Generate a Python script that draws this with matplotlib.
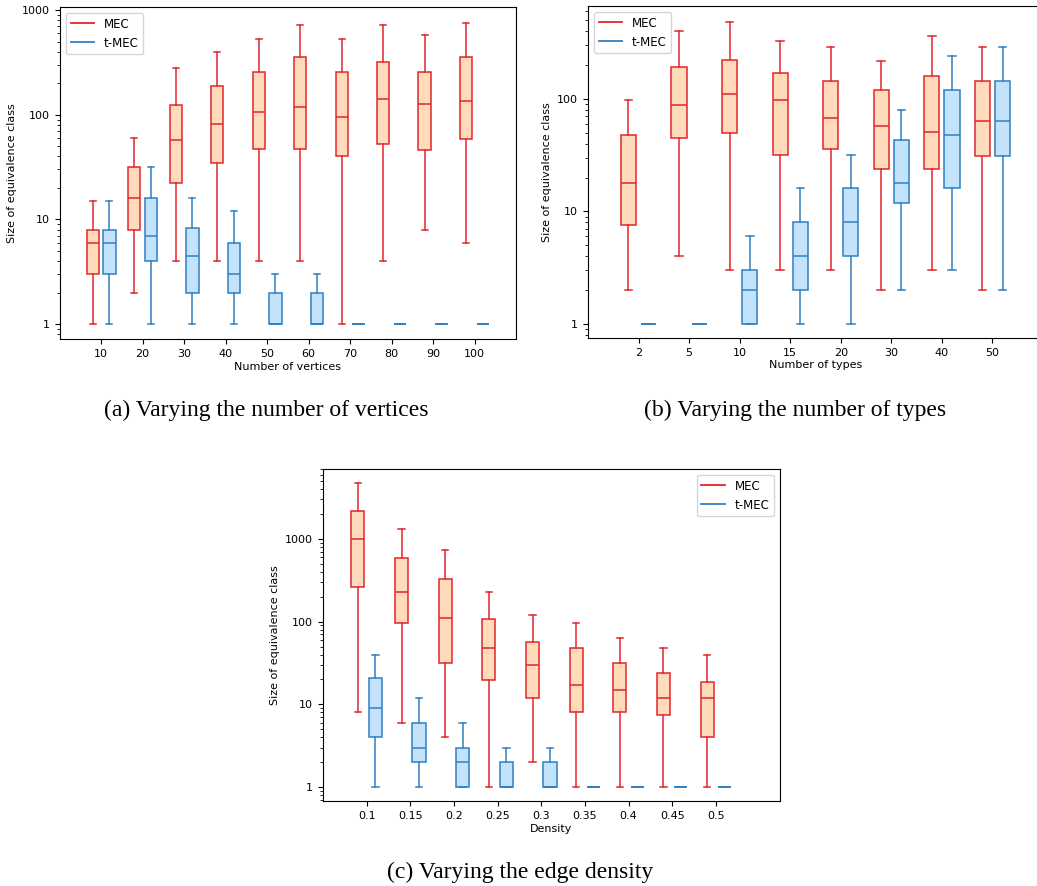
import matplotlib
matplotlib.use('Agg')
import matplotlib.pyplot as plt
from matplotlib.lines import Line2D
from matplotlib.ticker import FuncFormatter, NullFormatter, LogLocator

# ---- (a) number of vertices ----
vert_labels = ['10', '20', '30', '40', '50', '60', '70', '80', '90', '100']
# columns: whislo, q1, med, q3, whishi
vert_mec = [
    [1, 3, 6, 8, 15],
    [2, 8, 16, 32, 60],
    [4, 22.4, 58, 125, 277],
    [4, 34.5, 81, 189, 397],
    [4, 47, 107, 257, 532],
    [4, 47, 118, 356, 714],
    [1, 40, 95, 257, 532],
    [4, 52, 142, 316, 714],
    [8, 46, 126, 257, 573],
    [6, 59, 135, 358, 757],
]
vert_tmec = [
    [1, 3, 6, 8, 15],
    [1, 4, 7, 16, 32],
    [1, 2, 4.5, 8.2, 16],
    [1, 2, 3, 6, 12],
    [1, 1, 1, 2, 3],
    [1, 1, 1, 2, 3],
    [1, 1, 1, 1, 1],
    [1, 1, 1, 1, 1],
    [1, 1, 1, 1, 1],
    [1, 1, 1, 1, 1],
]

# ---- (b) number of types ----
type_labels = ['2', '5', '10', '15', '20', '30', '40', '50']
type_mec = [
    [2, 7.5, 18, 48, 97],
    [4, 45, 88, 192, 402],
    [3, 50, 110, 222, 479],
    [3, 32, 97, 171, 325],
    [3, 36, 68, 144, 288],
    [2, 24, 58, 121, 216],
    [3, 24, 51, 160, 362],
    [2, 31, 64, 144, 288],
]
type_tmec = [
    [1, 1, 1, 1, 1],
    [1, 1, 1, 1, 1],
    [1, 1, 2, 3, 6],
    [1, 2, 4, 8, 16],
    [1, 4, 8, 16, 32],
    [2, 12, 18, 43, 80],
    [3, 16, 48, 120, 241],
    [2, 31, 64, 144, 288],
]

# ---- (c) edge density ----
dens_labels = ['0.1', '0.15', '0.2', '0.25', '0.3', '0.35', '0.4', '0.45', '0.5']
dens_mec = [
    [8, 264, 1000, 2170, 4700],
    [6, 97, 230, 583, 1312],
    [4, 32, 111, 324, 729],
    [1, 19.7, 48, 109, 226],
    [2, 12, 30, 57, 121],
    [1, 8, 17, 48, 97],
    [1, 8, 15, 32, 64],
    [1, 7.5, 12, 24, 48],
    [1, 4, 12, 18.6, 39],
]
dens_tmec = [
    [1, 4, 9, 21, 40],
    [1, 2, 3, 6, 12],
    [1, 1, 2, 3, 6],
    [1, 1, 1, 2, 3],
    [1, 1, 1, 2, 3],
    [1, 1, 1, 1, 1],
    [1, 1, 1, 1, 1],
    [1, 1, 1, 1, 1],
    [1, 1, 1, 1, 1],
]

mec_edge, mec_face = '#e3262b', '#ffdabb'
tmec_edge, tmec_face = '#2f80c2', '#c3e2fb'


def to_stats(rows):
    return [dict(whislo=r[0], q1=r[1], med=r[2], q3=r[3], whishi=r[4], fliers=[])
            for r in rows]


def draw_boxes(ax, rows, pos, edge, face):
    props = dict(color=edge, linewidth=1.1)
    ax.bxp(to_stats(rows), positions=pos, widths=0.3, patch_artist=True,
           showfliers=False, manage_ticks=False,
           boxprops=dict(facecolor=face, edgecolor=edge, linewidth=1.1),
           medianprops=props, whiskerprops=props, capprops=props)


def panel(ax, labels, mec, tmec, xlabel, xlim, ylim, legend_loc):
    n = len(labels)
    draw_boxes(ax, mec, [i - 0.2 for i in range(n)], mec_edge, mec_face)
    draw_boxes(ax, tmec, [i + 0.2 for i in range(n)], tmec_edge, tmec_face)
    ax.set_yscale('log')
    ax.set_xlim(*xlim)
    ax.set_ylim(*ylim)
    ax.set_xticks(range(n))
    ax.set_xticklabels(labels)
    ax.yaxis.set_major_locator(LogLocator(base=10))
    ax.yaxis.set_major_formatter(FuncFormatter(lambda v, p: '%d' % round(v)))
    ax.yaxis.set_minor_formatter(NullFormatter())
    ax.tick_params(labelsize=8)
    ax.set_xlabel(xlabel, fontsize=8, labelpad=2)
    ax.set_ylabel('Size of equivalence class', fontsize=8)
    handles = [Line2D([], [], color=mec_edge, lw=1.3),
               Line2D([], [], color=tmec_edge, lw=1.3)]
    ax.legend(handles, ['MEC', 't-MEC'], loc=legend_loc, fontsize=8.5)


W, H = 1037, 886
fig = plt.figure(figsize=(W / 100, H / 100), dpi=100)


def add_axes(left, top, right, bottom):
    return fig.add_axes([left / W, (H - bottom) / H, (right - left) / W, (bottom - top) / H])


ax1 = add_axes(60, 7, 516, 339)
panel(ax1, vert_labels, vert_mec, vert_tmec, 'Number of vertices',
      (-0.99, 10.0), (0.72, 1070), 'upper left')

ax2 = add_axes(588, 6, 1043, 338)
panel(ax2, type_labels, type_mec, type_tmec, 'Number of types',
      (-1.0, 8.0), (0.75, 670), 'upper left')

ax3 = add_axes(323, 469, 780, 801)
panel(ax3, dens_labels, dens_mec, dens_tmec, 'Density',
      (-1.0, 9.47), (0.68, 7000), 'upper right')

cap_font = dict(family='Liberation Serif', fontsize=17, ha='center', va='center')
fig.text(266 / W, 1 - 410 / H, '(a) Varying the number of vertices', **cap_font)
fig.text(795 / W, 1 - 410 / H, '(b) Varying the number of types', **cap_font)
fig.text(520 / W, 1 - 872 / H, '(c) Varying the edge density', **cap_font)

plt.savefig('out.png', dpi=100)
plt.close()
